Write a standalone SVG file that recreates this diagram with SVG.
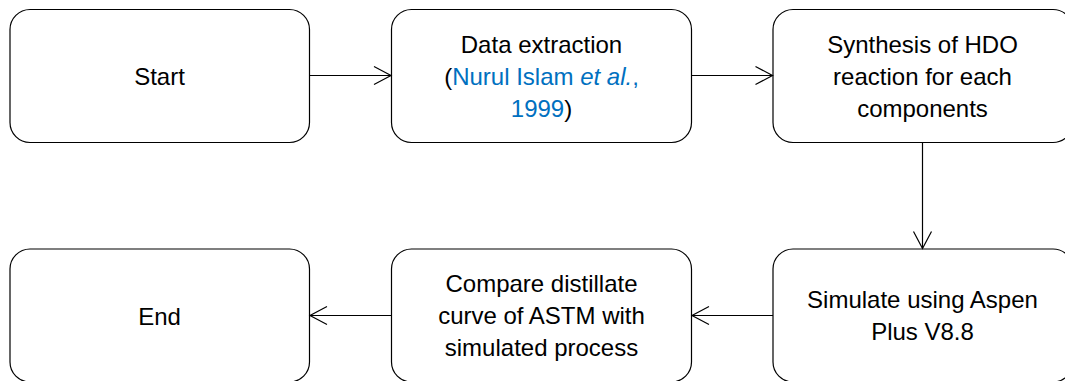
<svg xmlns="http://www.w3.org/2000/svg" width="1065" height="381" viewBox="0 0 1065 381">
<style>
.box{fill:#fff;stroke:#000;stroke-width:1.2}
.lbl{font-family:"Liberation Sans",Arial,sans-serif;font-size:24px;fill:#000;text-anchor:middle}
.ref{fill:#0070C0}
.conn{stroke:#000;stroke-width:1.2;fill:none;marker-end:url(#arr)}
</style>
<defs>
<marker id="arr" markerUnits="userSpaceOnUse" viewBox="-19 -11 21 22" markerWidth="21" markerHeight="22" refX="0" refY="0" orient="auto">
<path d="M-17,-9 L0,0 L-17,9" fill="none" stroke="#000" stroke-width="1.2"/>
</marker>
</defs>
<rect width="1065" height="381" fill="#fff"/>
<g id="start">
<rect class="box" x="10" y="9.5" width="299.5" height="133" rx="20"/>
<text class="lbl" x="159.5" y="85">Start</text>
</g>
<g id="data">
<rect class="box" x="391.5" y="9.5" width="300" height="133" rx="20"/>
<text class="lbl" x="541.5" y="53">Data extraction</text>
<text class="lbl" x="541.5" y="85">(<tspan class="ref">Nurul Islam <tspan font-style="italic">et al.</tspan>,</tspan></text>
<text class="lbl" x="541.5" y="117"><tspan class="ref">1999</tspan>)</text>
</g>
<g id="synthesis">
<rect class="box" x="773" y="9.5" width="300" height="133" rx="20"/>
<text class="lbl" x="922.5" y="53">Synthesis of HDO</text>
<text class="lbl" x="922.5" y="85">reaction for each</text>
<text class="lbl" x="922.5" y="117">components</text>
</g>
<g id="simulate">
<rect class="box" x="773" y="249" width="300" height="133" rx="20"/>
<text class="lbl" x="922.5" y="308">Simulate using Aspen</text>
<text class="lbl" x="922.5" y="340">Plus V8.8</text>
</g>
<g id="compare">
<rect class="box" x="391.5" y="249" width="300" height="133" rx="20"/>
<text class="lbl" x="541.5" y="292">Compare distillate</text>
<text class="lbl" x="541.5" y="324">curve of ASTM with</text>
<text class="lbl" x="541.5" y="356">simulated process</text>
</g>
<g id="end">
<rect class="box" x="10" y="249" width="299.5" height="133" rx="20"/>
<text class="lbl" x="159.5" y="325">End</text>
</g>
<g id="connectors">
<path class="conn" d="M309.5,75.5 L391,75.5"/>
<path class="conn" d="M691.5,75.5 L772.5,75.5"/>
<path class="conn" d="M922.5,142.5 L922.5,248.5"/>
<path class="conn" d="M773,315.5 L692,315.5"/>
<path class="conn" d="M391.5,315.5 L310,315.5"/>
</g>
</svg>
